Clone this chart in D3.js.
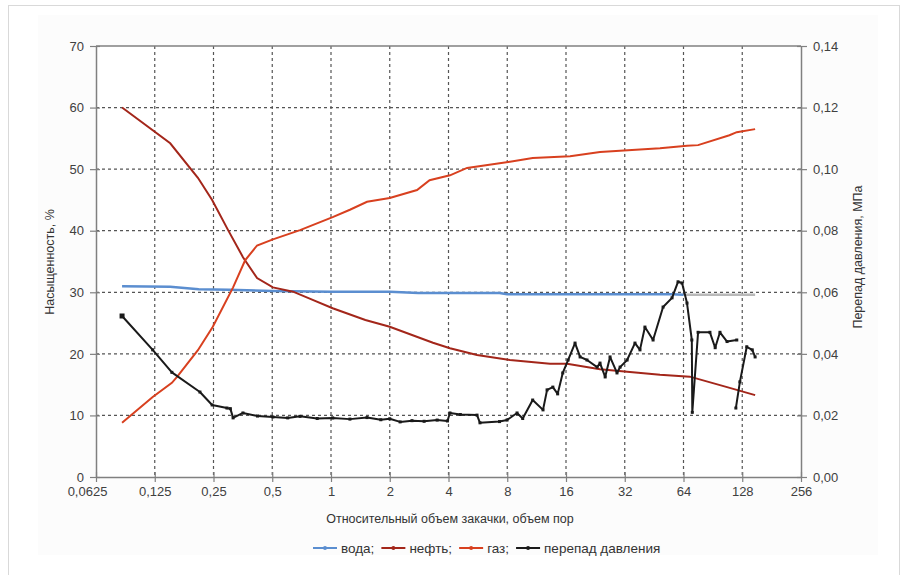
<!DOCTYPE html>
<html>
<head>
<meta charset="utf-8">
<script src="https://cdn.jsdelivr.net/npm/d3@7"></script>
<style>
  body { margin: 0; background: #fff; }
  svg { font-family: "Liberation Sans", Arial, sans-serif; }
</style>
</head>
<body>
<div id="chart"></div>
<script>
// Насыщенность и перепад давления vs объем закачки

var xTicks = [0.0625, 0.125, 0.25, 0.5, 1, 2, 4, 8, 16, 32, 64, 128, 256];
var xTickLabels = ["0,0625", "0,125", "0,25", "0,5", "1", "2", "4", "8", "16", "32", "64", "128", "256"];
var leftTicks = [0, 10, 20, 30, 40, 50, 60, 70];
var rightTicks = [0, 0.02, 0.04, 0.06, 0.08, 0.10, 0.12, 0.14];

// вода
var waterX = [0.085, 0.15, 0.21, 0.3, 0.5, 1, 2, 2.8, 4, 7.3, 8, 16, 32, 56, 64, 100, 149];
var waterY = [31.0, 30.9, 30.5, 30.4, 30.2, 30.1, 30.1, 29.9, 29.9, 29.9, 29.7, 29.7, 29.7, 29.7, 29.6, 29.6, 29.6];

// нефть
var oilX = [0.085, 0.15, 0.208, 0.246, 0.297, 0.354, 0.418, 0.504, 0.639, 0.8, 1.02, 1.5, 2.0, 3.33, 4.07, 5.6, 8.26, 13.25, 16.2, 23.9, 48.5, 69, 107, 149];
var oilY = [60, 54.2, 48.6, 45, 40.1, 35.7, 32.3, 30.8, 30.1, 28.8, 27.4, 25.5, 24.4, 21.8, 20.9, 19.8, 19.0, 18.4, 18.4, 17.5, 16.6, 16.3, 14.6, 13.3];

// газ
var gasX = [0.085, 0.122, 0.153, 0.163, 0.208, 0.248, 0.315, 0.363, 0.418, 0.504, 0.694, 1.02, 1.25, 1.53, 2.0, 2.76, 3.2, 4.07, 4.98, 8.26, 10.8, 16.8, 23.9, 48.5, 66.7, 76, 110, 120, 149];
var gasY = [8.8, 13, 15.3, 16.3, 20.6, 24.4, 30.8, 35.2, 37.6, 38.6, 40.1, 42.2, 43.4, 44.7, 45.3, 46.6, 48.2, 49, 50.2, 51.2, 51.8, 52.1, 52.8, 53.4, 53.8, 53.9, 55.5, 56, 56.5];

// перепад давления, МПа (null = разрыв линии)
var dpX = [0.085, 0.122, 0.153, 0.213, 0.246, 0.293, 0.305, 0.315, 0.354, 0.42, 0.504, 0.6, 0.694, 0.85, 1.02, 1.25, 1.53, 1.8, 2.0, 2.26, 2.6, 3.0, 3.5, 3.95, 4.07, 4.6, 5.6, 5.8, 7.3, 7.98, 8.98, 9.6, 10.8, 12.2, 12.8, 13.7, 14.5, 15.4, 16.4, 17.8, 18.9, 20.5, 23.1, 23.9, 25.4, 26.9, 29.2, 30.3, 32.9, 36.1, 38.3, 40.6, 44.7, 50.3, 55.9, 60, 62.9, 66.7, 70.6, 71, 76, 87.4, 93, 98.4, 107, 120, null, 118.7, 124.5, 135, 144, 149];
var dpY = [0.0523, 0.0413, 0.034, 0.0276, 0.0234, 0.0224, 0.0222, 0.0192, 0.0208, 0.0198, 0.0195, 0.0192, 0.0197, 0.019, 0.0192, 0.0188, 0.0193, 0.0186, 0.0189, 0.0179, 0.0183, 0.0181, 0.0185, 0.0182, 0.0208, 0.0203, 0.0201, 0.0176, 0.018, 0.0185, 0.0208, 0.019, 0.025, 0.0218, 0.0283, 0.0292, 0.027, 0.0338, 0.038, 0.0435, 0.039, 0.038, 0.0357, 0.037, 0.0325, 0.039, 0.0338, 0.0357, 0.038, 0.0435, 0.0413, 0.0487, 0.0445, 0.0552, 0.0582, 0.0634, 0.063, 0.0565, 0.0445, 0.021, 0.047, 0.047, 0.042, 0.047, 0.044, 0.0445, null, 0.0224, 0.0309, 0.0423, 0.0413, 0.039];

var legendNames = ["вода;", "нефть;", "газ;", "перепад давления"];
var colors = ["#5b8ed0", "#a3261a", "#d8401f", "#1a1a1a"];

function drawChart() {
  var svgWidth = 903, svgHeight = 575;
  var svg = d3.select("#chart").append("svg")
    .attr("width", svgWidth)
    .attr("height", svgHeight);

  // outer frame
  svg.append("rect").attr("x", 8.5).attr("y", 5.5).attr("width", 891).attr("height", 580)
    .attr("fill", "#fff").attr("stroke", "#d9d9d9");
  svg.append("rect").attr("x", 38).attr("y", 15).attr("width", 840).attr("height", 540)
    .attr("fill", "#fcfcfc");

  var margin = { left: 96, right: 801, top: 46, bottom: 477 };

  var x = d3.scaleLog().base(2).domain([0.0625, 256]).range([margin.left, margin.right]);
  var yL = d3.scaleLinear().domain([0, 70]).range([margin.bottom, margin.top]);
  var yR = d3.scaleLinear().domain([0, 0.14]).range([margin.bottom, margin.top]);

  svg.append("rect").attr("x", margin.left).attr("y", margin.top)
    .attr("width", margin.right - margin.left).attr("height", margin.bottom - margin.top)
    .attr("fill", "#fff");

  // grid
  var grid = svg.append("g");
  grid.selectAll(".vg").data(xTicks.slice(1, -1)).enter().append("line")
    .attr("x1", d => x(d)).attr("x2", d => x(d)).attr("y1", margin.top).attr("y2", margin.bottom)
    .attr("stroke", "#555").attr("stroke-width", 1.2).attr("stroke-dasharray", "3,3");
  grid.selectAll(".hg").data(leftTicks.slice(1, -1)).enter().append("line")
    .attr("x1", margin.left).attr("x2", margin.right).attr("y1", d => yL(d)).attr("y2", d => yL(d))
    .attr("stroke", "#555").attr("stroke-width", 1.2).attr("stroke-dasharray", "3,3");

  // axes
  var axisColor = "#808080";
  var gx = svg.append("g").attr("transform", "translate(0," + margin.bottom + ")")
    .call(d3.axisBottom(x).tickValues(xTicks).tickSize(0)
      .tickFormat((d, i) => xTickLabels[i]).tickPadding(10));
  var gl = svg.append("g").attr("transform", "translate(" + margin.left + ",0)")
    .call(d3.axisLeft(yL).tickValues(leftTicks).tickSize(0).tickPadding(12));
  var gr = svg.append("g").attr("transform", "translate(" + margin.right + ",0)")
    .call(d3.axisRight(yR).tickValues(rightTicks).tickSize(0).tickPadding(12)
      .tickFormat(d => d3.format(".2f")(d).replace(".", ",")));
  [gx, gl, gr].forEach(function (g) {
    g.select(".domain").attr("stroke", axisColor).attr("stroke-width", 1.5);
    g.selectAll("text").attr("fill", "#404040").style("font-size", "13px");
  });
  // first x label sits a bit left of its tick, as in the source
  gx.selectAll(".tick text").filter((d, i) => i === 0).attr("dx", -9);
  // crossing tick marks
  gx.selectAll(".tick").append("line").attr("y1", -5).attr("y2", 5).attr("stroke", axisColor).attr("stroke-width", 1.2);
  gl.selectAll(".tick").append("line").attr("x1", -6).attr("x2", 4).attr("stroke", axisColor).attr("stroke-width", 1.2);
  gr.selectAll(".tick").append("line").attr("x1", -4).attr("x2", 6).attr("stroke", axisColor).attr("stroke-width", 1.2);
  svg.append("line").attr("x1", margin.left).attr("x2", margin.right).attr("y1", margin.top).attr("y2", margin.top)
    .attr("stroke", axisColor).attr("stroke-width", 1.5);

  // axis titles
  svg.append("text").attr("x", 450).attr("y", 523).attr("text-anchor", "middle")
    .style("font-size", "12.5px").attr("fill", "#333").text("Относительный объем закачки, объем пор");
  svg.append("text").attr("transform", "translate(54,262) rotate(-90)").attr("text-anchor", "middle")
    .style("font-size", "12.5px").attr("fill", "#333").text("Насыщенность, %");
  svg.append("text").attr("transform", "translate(862,257) rotate(-90)").attr("text-anchor", "middle")
    .style("font-size", "12.5px").attr("fill", "#333").text("Перепад давления, МПа");

  // series
  function pts(xs, ys) {
    return xs.map((d, i) => ({ x: d, y: ys[i] }));
  }
  var lineL = d3.line().x(d => x(d.x)).y(d => yL(d.y));
  var lineR = d3.line().defined(d => d.y !== null).x(d => x(d.x)).y(d => yR(d.y));

  var water = pts(waterX, waterY);
  svg.append("path").datum(water.filter(d => d.x >= 64)).attr("d", lineL).attr("fill", "none")
    .attr("stroke", "#b8b8b8").attr("stroke-width", 2.5);
  svg.append("path").datum(water.filter(d => d.x <= 64)).attr("d", lineL).attr("fill", "none")
    .attr("stroke", colors[0]).attr("stroke-width", 2.5);

  svg.append("path").datum(pts(oilX, oilY)).attr("d", lineL).attr("fill", "none")
    .attr("stroke", colors[1]).attr("stroke-width", 2);

  svg.append("path").datum(pts(gasX, gasY)).attr("d", lineL).attr("fill", "none")
    .attr("stroke", colors[2]).attr("stroke-width", 2);

  var dp = pts(dpX, dpY);
  svg.append("path").datum(dp).attr("d", lineR).attr("fill", "none")
    .attr("stroke", colors[3]).attr("stroke-width", 2).attr("stroke-linejoin", "round");
  svg.append("g").selectAll("rect").data(dp.filter(d => d.y !== null)).enter().append("rect")
    .attr("x", d => x(d.x) - 1.5).attr("y", d => yR(d.y) - 1.5)
    .attr("width", 3).attr("height", 3).attr("fill", colors[3]);
  svg.append("rect").attr("x", x(dpX[0]) - 2.5).attr("y", yR(dpY[0]) - 2.5)
    .attr("width", 5).attr("height", 5).attr("fill", colors[3]);

  // legend
  var legend = svg.append("g").attr("transform", "translate(313,548)");
  var lx = 0;
  legendNames.forEach(function (name, i) {
    var g = legend.append("g").attr("transform", "translate(" + lx + ",0)");
    g.append("line").attr("x1", 0).attr("x2", 24).attr("y1", 0).attr("y2", 0)
      .attr("stroke", colors[i]).attr("stroke-width", 2);
    g.append("circle").attr("cx", 12).attr("cy", 0).attr("r", 2).attr("fill", colors[i]);
    var t = g.append("text").attr("x", 28).attr("y", 5).style("font-size", "13.5px")
      .attr("fill", "#333").text(name);
    lx += 28 + t.node().getComputedTextLength() + 7;
  });
}

drawChart();
</script>
</body>
</html>
